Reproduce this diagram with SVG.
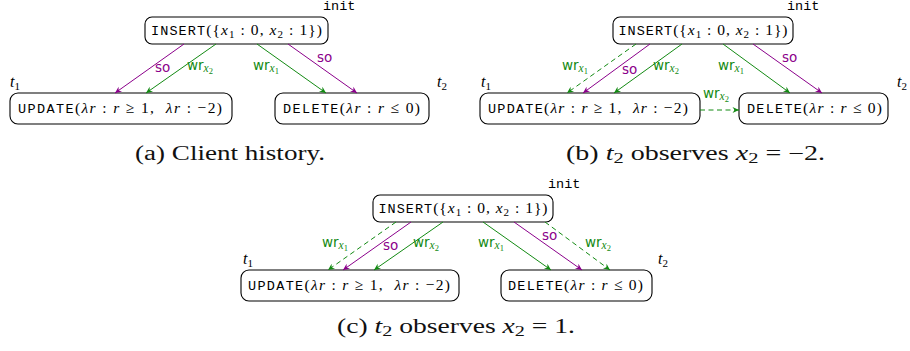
<svg xmlns="http://www.w3.org/2000/svg" width="910" height="351" viewBox="0 0 910 351">
<defs>
<marker id="ap" viewBox="-7 -4 8 8" refX="0" refY="0" markerWidth="8" markerHeight="8" markerUnits="userSpaceOnUse" orient="auto"><path d="M0,0 L-6.5,-3 L-4.5,0 L-6.5,3 Z" fill="#8b008b"/></marker>
<marker id="ag" viewBox="-7 -4 8 8" refX="0" refY="0" markerWidth="8" markerHeight="8" markerUnits="userSpaceOnUse" orient="auto"><path d="M0,0 L-6.5,-3 L-4.5,0 L-6.5,3 Z" fill="#138a13"/></marker>
</defs>
<style>
text{white-space:pre}
.box{fill:#fff;stroke:#000;stroke-width:1.1}
.m{font-family:"Liberation Serif","DejaVu Serif",serif;font-size:15.5px;fill:#000}
.tt{font-family:"Liberation Mono","DejaVu Sans Mono",monospace;font-size:13.5px}
.it{font-style:italic}
.sb{font-size:11px}
.so{stroke:#8b008b;stroke-width:1;fill:none;marker-end:url(#ap)}
.wr{stroke:#138a13;stroke-width:1;fill:none;marker-end:url(#ag)}
.d{stroke-dasharray:5,3.5}
.lso{font-family:"DejaVu Sans",sans-serif;font-size:13.5px;fill:#8b008b}
.lwr{font-family:"DejaVu Sans",sans-serif;font-size:13.5px;fill:#138a13}
.x{font-family:"Liberation Serif","DejaVu Serif",serif;font-style:italic;font-size:11.5px}
.n{font-family:"Liberation Serif","DejaVu Serif",serif;font-size:8.5px}
.cap{font-family:"Liberation Serif","DejaVu Serif",serif;font-size:20.5px;fill:#111}
.lab{font-family:"Liberation Serif","DejaVu Serif",serif;font-size:16px;fill:#000}
.init{font-family:"Liberation Mono","DejaVu Sans Mono",monospace;font-size:13.5px;fill:#000}
</style>

<!-- Panel (a) -->
<g id="a-insert">
<rect class="box" x="145" y="17" width="183" height="27" rx="7"/>
<text class="m" x="236.5" y="35" text-anchor="middle" textLength="171" lengthAdjust="spacing"><tspan class="tt">INSERT</tspan>({<tspan class="it">x</tspan><tspan class="sb" dy="3">1</tspan><tspan dy="-3"> : 0, </tspan><tspan class="it">x</tspan><tspan class="sb" dy="3">2</tspan><tspan dy="-3"> : 1})</tspan></text>
<text class="init" x="323" y="10">init</text>
</g>
<g id="a-update">
<rect class="box" x="10" y="93" width="222" height="31" rx="8"/>
<text class="m" x="120" y="113" text-anchor="middle" textLength="204" lengthAdjust="spacing"><tspan class="tt">UPDATE</tspan>(<tspan class="it">λr</tspan> : <tspan class="it">r</tspan> ≥ 1,  <tspan class="it">λr</tspan> : −2)</text>
<text class="lab" x="10" y="87"><tspan class="it">t</tspan><tspan class="sb" dy="3">1</tspan></text>
</g>
<g id="a-delete">
<rect class="box" x="275" y="93" width="154" height="31" rx="8"/>
<text class="m" x="351.5" y="113" text-anchor="middle" textLength="137" lengthAdjust="spacing"><tspan class="tt">DELETE</tspan>(<tspan class="it">λr</tspan> : <tspan class="it">r</tspan> ≤ 0)</text>
<text class="lab" x="437" y="87"><tspan class="it">t</tspan><tspan class="sb" dy="3">2</tspan></text>
</g>
<g id="a-edges">
<line class="so" x1="184" y1="44" x2="115" y2="93"/>
<line class="wr" x1="216" y1="44" x2="146" y2="93"/>
<line class="wr" x1="257" y1="44" x2="326" y2="93"/>
<line class="so" x1="288" y1="44" x2="357" y2="93"/>
<text class="lso" x="155" y="72">so</text>
<text class="lwr" x="187" y="70">wr<tspan class="x" dy="2">x</tspan><tspan class="n" dy="2">2</tspan></text>
<text class="lwr" x="253" y="70">wr<tspan class="x" dy="2">x</tspan><tspan class="n" dy="2">1</tspan></text>
<text class="lso" x="317" y="62">so</text>
</g>
<text class="cap" x="230" y="160" text-anchor="middle" textLength="190" lengthAdjust="spacingAndGlyphs">(a) Client history.</text>

<!-- Panel (b) -->
<g id="b-insert">
<rect class="box" x="613" y="17" width="180" height="27" rx="7"/>
<text class="m" x="703" y="35" text-anchor="middle" textLength="169" lengthAdjust="spacing"><tspan class="tt">INSERT</tspan>({<tspan class="it">x</tspan><tspan class="sb" dy="3">1</tspan><tspan dy="-3"> : 0, </tspan><tspan class="it">x</tspan><tspan class="sb" dy="3">2</tspan><tspan dy="-3"> : 1})</tspan></text>
<text class="init" x="787" y="10">init</text>
</g>
<g id="b-update">
<rect class="box" x="480" y="93" width="220" height="31" rx="8"/>
<text class="m" x="588" y="113" text-anchor="middle" textLength="200" lengthAdjust="spacing"><tspan class="tt">UPDATE</tspan>(<tspan class="it">λr</tspan> : <tspan class="it">r</tspan> ≥ 1,  <tspan class="it">λr</tspan> : −2)</text>
<text class="lab" x="481" y="87"><tspan class="it">t</tspan><tspan class="sb" dy="3">1</tspan></text>
</g>
<g id="b-delete">
<rect class="box" x="739" y="93" width="149" height="31" rx="8"/>
<text class="m" x="814.5" y="113" text-anchor="middle" textLength="135" lengthAdjust="spacing"><tspan class="tt">DELETE</tspan>(<tspan class="it">λr</tspan> : <tspan class="it">r</tspan> ≤ 0)</text>
<text class="lab" x="897" y="87"><tspan class="it">t</tspan><tspan class="sb" dy="3">2</tspan></text>
</g>
<g id="b-edges">
<line class="wr d" x1="636" y1="44" x2="567" y2="93"/>
<line class="so" x1="650" y1="44" x2="583" y2="93"/>
<line class="wr" x1="682" y1="44" x2="614" y2="93"/>
<line class="wr" x1="723" y1="44" x2="790" y2="93"/>
<line class="so" x1="753" y1="44" x2="822" y2="93"/>
<line class="wr d" x1="700" y1="110" x2="739" y2="110"/>
<text class="lwr" x="562" y="70">wr<tspan class="x" dy="2">x</tspan><tspan class="n" dy="2">1</tspan></text>
<text class="lso" x="622" y="74">so</text>
<text class="lwr" x="653" y="70">wr<tspan class="x" dy="2">x</tspan><tspan class="n" dy="2">2</tspan></text>
<text class="lwr" x="718" y="70">wr<tspan class="x" dy="2">x</tspan><tspan class="n" dy="2">1</tspan></text>
<text class="lso" x="782" y="62">so</text>
<text class="lwr" x="703" y="98">wr<tspan class="x" dy="2">x</tspan><tspan class="n" dy="2">2</tspan></text>
</g>
<text class="cap" x="695.5" y="160" text-anchor="middle" textLength="259" lengthAdjust="spacingAndGlyphs">(b) <tspan class="it">t</tspan><tspan font-size="15" dy="3">2</tspan><tspan dy="-3"> observes </tspan><tspan class="it">x</tspan><tspan font-size="15" dy="3">2</tspan><tspan dy="-3"> = −2.</tspan></text>

<!-- Panel (c) -->
<g id="c-insert">
<rect class="box" x="373" y="195" width="180" height="27" rx="7"/>
<text class="m" x="463" y="213" text-anchor="middle" textLength="169" lengthAdjust="spacing"><tspan class="tt">INSERT</tspan>({<tspan class="it">x</tspan><tspan class="sb" dy="3">1</tspan><tspan dy="-3"> : 0, </tspan><tspan class="it">x</tspan><tspan class="sb" dy="3">2</tspan><tspan dy="-3"> : 1})</tspan></text>
<text class="init" x="548" y="188">init</text>
</g>
<g id="c-update">
<rect class="box" x="241" y="270" width="218" height="31" rx="8"/>
<text class="m" x="349" y="290" text-anchor="middle" textLength="202" lengthAdjust="spacing"><tspan class="tt">UPDATE</tspan>(<tspan class="it">λr</tspan> : <tspan class="it">r</tspan> ≥ 1,  <tspan class="it">λr</tspan> : −2)</text>
<text class="lab" x="243" y="264"><tspan class="it">t</tspan><tspan class="sb" dy="3">1</tspan></text>
</g>
<g id="c-delete">
<rect class="box" x="501" y="270" width="151" height="31" rx="8"/>
<text class="m" x="575.5" y="290" text-anchor="middle" textLength="135" lengthAdjust="spacing"><tspan class="tt">DELETE</tspan>(<tspan class="it">λr</tspan> : <tspan class="it">r</tspan> ≤ 0)</text>
<text class="lab" x="658" y="264"><tspan class="it">t</tspan><tspan class="sb" dy="3">2</tspan></text>
</g>
<g id="c-edges">
<line class="wr d" x1="396" y1="222" x2="328" y2="270"/>
<line class="so" x1="411" y1="222" x2="343" y2="270"/>
<line class="wr" x1="443" y1="222" x2="374" y2="270"/>
<line class="wr" x1="483" y1="222" x2="551" y2="270"/>
<line class="so" x1="514" y1="222" x2="582" y2="270"/>
<line class="wr d" x1="545" y1="222" x2="610" y2="270"/>
<text class="lwr" x="322" y="247">wr<tspan class="x" dy="2">x</tspan><tspan class="n" dy="2">1</tspan></text>
<text class="lso" x="383" y="250">so</text>
<text class="lwr" x="413" y="247">wr<tspan class="x" dy="2">x</tspan><tspan class="n" dy="2">2</tspan></text>
<text class="lwr" x="478" y="247">wr<tspan class="x" dy="2">x</tspan><tspan class="n" dy="2">1</tspan></text>
<text class="lso" x="542" y="240">so</text>
<text class="lwr" x="585" y="247">wr<tspan class="x" dy="2">x</tspan><tspan class="n" dy="2">2</tspan></text>
</g>
<text class="cap" x="456" y="333" text-anchor="middle" textLength="238" lengthAdjust="spacingAndGlyphs">(c) <tspan class="it">t</tspan><tspan font-size="15" dy="3">2</tspan><tspan dy="-3"> observes </tspan><tspan class="it">x</tspan><tspan font-size="15" dy="3">2</tspan><tspan dy="-3"> = 1.</tspan></text>
</svg>
